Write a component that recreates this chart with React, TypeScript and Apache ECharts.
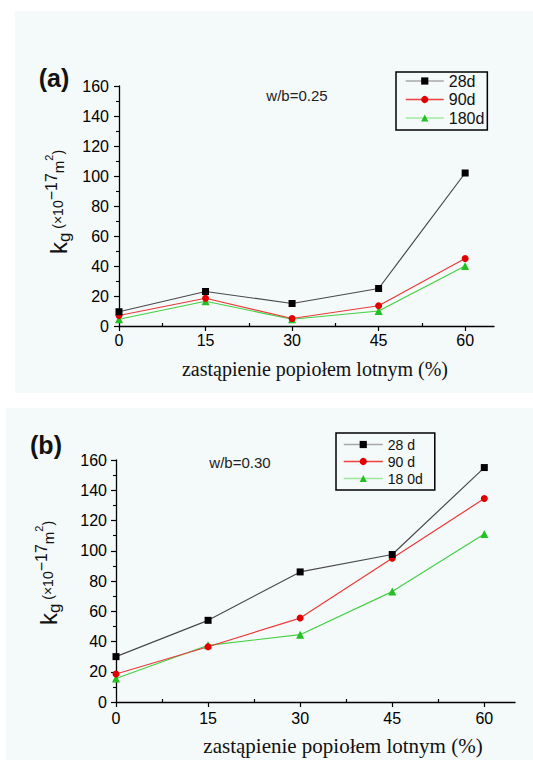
import React, { useEffect, useRef } from "react";
import * as echarts from "echarts";

const xValues = [0, 15, 30, 45, 60];
const xTickLabels = [0, 15, 30, 45, 60];
const xMinorTicks = [7.5, 22.5, 37.5, 52.5];

const namesA = ["28d", "90d", "180d"];
const namesB = ["28 d", "90 d", "18 0d"];

const a28 = [9.5, 23, 15, 25, 102];
const a90 = [7, 18.5, 5, 13.5, 45];
const a180 = [4.5, 16.5, 4.5, 10, 40];

const b28 = [30, 54, 86, 97.5, 155];
const b90 = [18.5, 36.5, 55.5, 95, 134.5];
const b180 = [15.5, 37.5, 44.5, 73, 111];

const SANS = "Liberation Sans, Arial, Helvetica, sans-serif";
const SERIF = "Liberation Serif, DejaVu Serif, Times New Roman, serif";

const seriesStyles = [
  { line: "#4a4a4a", marker: "#000000", symbol: "rect", size: 7, legendLine: "#a8a8a8" },
  { line: "#e83a3a", marker: "#e00000", symbol: "circle", size: 7, legendLine: "#f04040" },
  { line: "#44d044", marker: "#22c022", symbol: "triangle", size: 8, legendLine: "#a0e8a0" },
];

function pairs(vals: number[]) {
  return xValues.map((x, i) => [x, vals[i]]);
}

function yTitle(x: number, y: number) {
  return {
    type: "text",
    x,
    y,
    rotation: Math.PI / 2,
    z: 10,
    style: {
      text: "{k|k}{g|g}{p| (×10}{s|−17}{m|m}{t|2}{c|)}",
      align: "center",
      verticalAlign: "middle",
      fill: "#111",
      rich: {
        k: { fontSize: 24, fontFamily: SANS, lineHeight: 30, verticalAlign: "middle", fill: "#111" },
        g: { fontSize: 17, fontFamily: SANS, verticalAlign: "bottom", fill: "#111" },
        p: { fontSize: 14, fontFamily: SANS, verticalAlign: "middle", fill: "#111" },
        s: { fontSize: 16, fontFamily: SANS, verticalAlign: "top", fill: "#111" },
        m: { fontSize: 15, fontFamily: SANS, verticalAlign: "middle", fill: "#111" },
        t: { fontSize: 11, fontFamily: SANS, verticalAlign: "top", fill: "#111" },
        c: { fontSize: 14, fontFamily: SANS, verticalAlign: "middle", fill: "#111" },
      },
    },
  };
}

export default function App() {
  const ref = useRef<HTMLDivElement>(null);

  useEffect(() => {
    if (!ref.current) return;
    const chart = echarts.init(ref.current, null, { renderer: "svg" });

    const grids = [
      { left: 119, top: 86, width: 375, height: 240 },
      { left: 116, top: 460, width: 399, height: 242 },
    ];

    const mainX = (gi: number, margin: number) => ({
      type: "value",
      gridIndex: gi,
      min: 0,
      max: 65,
      position: "bottom",
      axisLine: { show: true, onZero: false, lineStyle: { color: "#000", width: 1.3 } },
      axisTick: { show: true, customValues: xTickLabels, length: 5, lineStyle: { color: "#000", width: 1.2 } },
      axisLabel: { customValues: xTickLabels, margin, fontSize: 16, fontFamily: SANS, color: "#000" },
      splitLine: { show: false },
    });
    const minorX = (gi: number) => ({
      type: "value",
      gridIndex: gi,
      min: 0,
      max: 65,
      position: "bottom",
      axisLine: { show: false },
      axisTick: { show: true, inside: true, customValues: xMinorTicks, length: 3, lineStyle: { color: "#000", width: 1.2 } },
      axisLabel: { show: false },
      splitLine: { show: false },
    });
    const yAx = (gi: number, margin: number) => ({
      type: "value",
      gridIndex: gi,
      min: 0,
      max: 160,
      interval: 20,
      axisLine: { show: true, lineStyle: { color: "#000", width: 1.3 } },
      axisTick: { show: true, length: 5, lineStyle: { color: "#000", width: 1.2 } },
      minorTick: { show: true, splitNumber: 2, length: 3, lineStyle: { color: "#000", width: 1.1 } },
      axisLabel: { margin, fontSize: 16, fontFamily: SANS, color: "#000" },
      splitLine: { show: false },
    });

    const panelData = [
      [a28, a90, a180],
      [b28, b90, b180],
    ];
    const panelNames = [namesA, namesB];

    const series: any[] = [];
    panelData.forEach((set, gi) => {
      set.forEach((vals, si) => {
        const st = seriesStyles[si];
        series.push({
          type: "line",
          name: panelNames[gi][si],
          xAxisIndex: gi * 2,
          yAxisIndex: gi,
          data: pairs(vals),
          symbol: st.symbol,
          symbolSize: st.size,
          itemStyle: { color: st.marker },
          lineStyle: { color: st.line, width: 1.2 },
          z: 5 - si,
        });
      });
    });

    const legendData = (names: string[]) =>
      names.map((n, i) => ({
        name: n,
        itemStyle: { color: seriesStyles[i].marker },
        lineStyle: { color: seriesStyles[i].legendLine, width: 1.5 },
      }));

    chart.setOption({
      animation: false,
      backgroundColor: "#ffffff",
      grid: grids,
      xAxis: [mainX(0, 6), minorX(0), mainX(1, 8), minorX(1)],
      yAxis: [yAx(0, 10), yAx(1, 9)],
      legend: [
        {
          data: legendData(namesA),
          orient: "vertical",
          left: 396,
          top: 72,
          itemWidth: 38,
          itemHeight: 9,
          itemGap: 2.5,
          padding: [1, 3, 4, 9],
          borderColor: "#000",
          borderWidth: 1.5,
          borderRadius: 0,
          selectedMode: false,
          textStyle: { fontSize: 16, fontFamily: SANS, color: "#111" },
        },
        {
          data: legendData(namesB),
          orient: "vertical",
          left: 336,
          top: 433,
          itemWidth: 39,
          itemHeight: 9,
          itemGap: 3,
          padding: [4.5, 12, 4.5, 7],
          borderColor: "#000",
          borderWidth: 1.5,
          borderRadius: 0,
          selectedMode: false,
          textStyle: { fontSize: 14, fontFamily: SANS, color: "#111" },
        },
      ],
      graphic: [
        { type: "rect", z: -10, shape: { x: 15, y: 11, width: 518, height: 382 }, style: { fill: "#f4f9f9" } },
        { type: "rect", z: -10, shape: { x: 6, y: 408, width: 527, height: 352 }, style: { fill: "#f4f9f9" } },
        {
          type: "text", x: 54, y: 78, z: 10,
          style: { text: "(a)", fontSize: 25, fontWeight: "bold", fontFamily: SANS, fill: "#111", align: "center", verticalAlign: "middle" },
        },
        {
          type: "text", x: 46, y: 445, z: 10,
          style: { text: "(b)", fontSize: 25, fontWeight: "bold", fontFamily: SANS, fill: "#111", align: "center", verticalAlign: "middle" },
        },
        {
          type: "text", x: 297, y: 95, z: 10,
          style: { text: "w/b=0.25", fontSize: 15, fontFamily: SANS, fill: "#222", align: "center", verticalAlign: "middle" },
        },
        {
          type: "text", x: 240, y: 462, z: 10,
          style: { text: "w/b=0.30", fontSize: 15, fontFamily: SANS, fill: "#222", align: "center", verticalAlign: "middle" },
        },
        {
          type: "text", x: 315, y: 369, z: 10,
          style: { text: "zastąpienie popiołem lotnym (%)", fontSize: 20, fontFamily: SERIF, fill: "#111", align: "center", verticalAlign: "middle" },
        },
        {
          type: "text", x: 343, y: 746, z: 10,
          style: { text: "zastąpienie popiołem lotnym (%)", fontSize: 21, fontFamily: SERIF, fill: "#111", align: "center", verticalAlign: "middle" },
        },
        yTitle(58, 202),
        yTitle(48, 573),
      ],
      series,
    });

    return () => chart.dispose();
  }, []);

  return (
    <div
      ref={ref}
      style={{ position: "absolute", left: 0, top: 0, width: 533, height: 760 }}
    />
  );
}
